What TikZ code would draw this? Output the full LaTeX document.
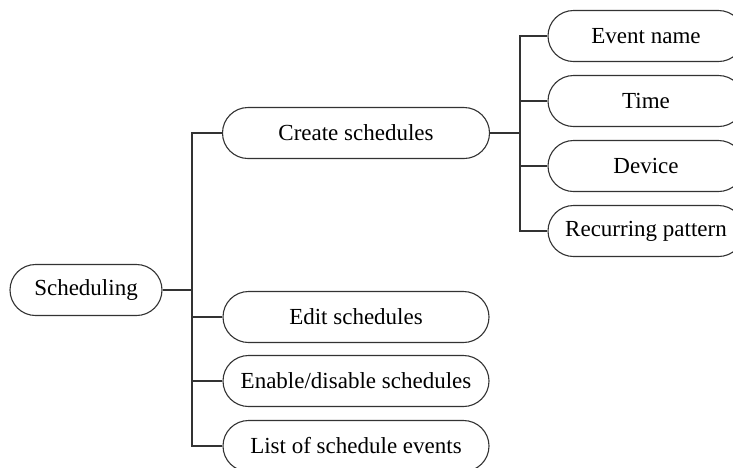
\documentclass[tikz,border=0pt]{standalone}
\usepackage{fontspec}
\setmainfont{Liberation Serif}
\begin{document}
\begin{tikzpicture}[x=1pt,y=-1pt,
  pill/.style={draw=black!80, line width=1.1pt, rounded corners=25.5pt, minimum height=51pt, inner sep=0pt, font=\fontsize{23}{27}\selectfont},
  conn/.style={draw=black!80, line width=1.1pt}]
\useasboundingbox (0,0) rectangle (733,467);
\clip (0,0) rectangle (733,467);
\node[pill, minimum width=152pt] (root) at (86,290) {Scheduling};
\node[pill, minimum width=267pt] (create) at (356,133) {Create schedules};
\node[pill, minimum width=266pt] (edit) at (356,317) {Edit schedules};
\node[pill, minimum width=266pt] (enable) at (356,381) {Enable/disable schedules};
\node[pill, minimum width=266pt] (list) at (356,446) {List of schedule events};
\node[pill, minimum width=196pt] (ev) at (646,36) {Event name};
\node[pill, minimum width=196pt] (time) at (646,101) {Time};
\node[pill, minimum width=196pt] (dev) at (646,166) {Device};
\node[pill, minimum width=196pt] (rec) at (646,231) {Recurring pattern};
\coordinate (j1) at (192,290);
\coordinate (j2) at (520,133);
\draw[conn] (root.east) -- (j1);
\draw[conn] (create.west) -| (j1) |- (list.west);
\draw[conn] (edit.west) -- (edit.west -| j1);
\draw[conn] (enable.west) -- (enable.west -| j1);
\draw[conn] (create.east) -- (j2);
\draw[conn] (ev.west) -| (j2) |- (rec.west);
\draw[conn] (time.west) -- (time.west -| j2);
\draw[conn] (dev.west) -- (dev.west -| j2);
\end{tikzpicture}
\end{document}
